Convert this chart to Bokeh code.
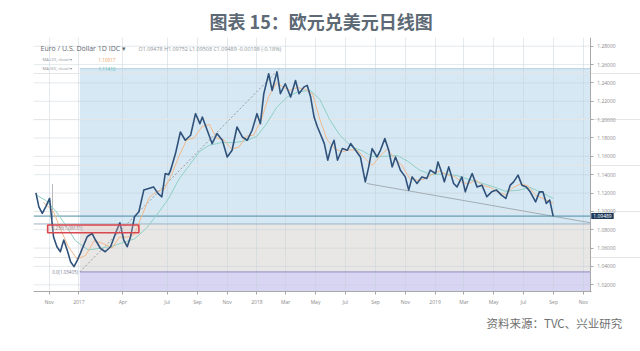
import pandas as pd
from bokeh.plotting import figure
from bokeh.models import (Range1d, FixedTicker, NumeralTickFormatter, Label, ColumnDataSource,
                          Title, LinearAxis)
from bokeh.embed import file_html
from bokeh.resources import INLINE

# ---------------- data ----------------
title_text = "图表 15：欧元兑美元日线图"
source_text = "资料来源：TVC、兴业研究"
header_pair = "Euro / U.S. Dollar   1D   IDC ▾"
header_ohlc = "O1.09478  H1.09752  L1.09508  C1.09489  -0.00198 (-0.18%)"
ma_fast_name = "MA (20, close) ▾"
ma_fast_last = "1.10917"
ma_slow_name = "MA (60, close) ▾"
ma_slow_last = "1.11410"

price_dates = [
    "2016-10-05", "2016-10-11", "2016-10-18", "2016-10-25", "2016-11-02", "2016-11-10",
    "2016-11-17", "2016-11-24", "2016-12-01", "2016-12-08", "2016-12-15", "2016-12-22",
    "2016-12-29", "2017-01-04", "2017-01-11", "2017-01-18", "2017-01-28", "2017-02-04",
    "2017-02-14", "2017-02-24", "2017-03-07", "2017-03-17", "2017-03-26", "2017-04-03",
    "2017-04-10", "2017-04-17", "2017-04-25", "2017-05-04", "2017-05-14", "2017-05-24",
    "2017-06-03", "2017-06-12", "2017-06-20", "2017-06-27", "2017-07-04", "2017-07-08",
    "2017-07-18", "2017-07-28", "2017-08-07", "2017-08-18", "2017-08-28", "2017-09-06",
    "2017-09-11", "2017-09-21", "2017-10-01", "2017-10-11", "2017-10-22", "2017-11-01",
    "2017-11-11", "2017-11-21", "2017-12-02", "2017-12-12", "2017-12-22", "2018-01-01",
    "2018-01-08", "2018-01-15", "2018-01-25", "2018-02-01", "2018-02-11", "2018-02-18",
    "2018-02-28", "2018-03-11", "2018-03-21", "2018-03-28", "2018-04-07", "2018-04-14",
    "2018-04-21", "2018-04-28", "2018-05-05", "2018-05-12", "2018-05-19", "2018-05-26",
    "2018-06-02", "2018-06-08", "2018-06-15", "2018-06-25", "2018-07-05", "2018-07-12",
    "2018-07-22", "2018-08-01", "2018-08-11", "2018-08-18", "2018-08-25", "2018-09-04",
    "2018-09-11", "2018-09-20", "2018-09-28", "2018-10-05", "2018-10-12", "2018-10-22",
    "2018-11-01", "2018-11-08", "2018-11-15", "2018-11-25", "2018-12-05", "2018-12-15",
    "2018-12-22", "2019-01-02", "2019-01-07", "2019-01-14", "2019-01-20", "2019-01-29",
    "2019-02-08", "2019-02-15", "2019-02-25", "2019-03-04", "2019-03-11", "2019-03-18",
    "2019-03-28", "2019-04-07", "2019-04-17", "2019-04-27", "2019-05-07", "2019-05-17",
    "2019-05-26", "2019-06-04", "2019-06-11", "2019-06-20", "2019-06-28", "2019-07-07",
    "2019-07-15", "2019-07-26", "2019-08-03", "2019-08-10", "2019-08-17", "2019-08-24",
    "2019-08-31",
]
price_close = [
    1.1202, 1.1050, 1.0978, 1.1050, 1.1141, 1.0724,
    1.0615, 1.0560, 1.0688, 1.0580, 1.0452, 1.0398,
    1.0470, 1.0543, 1.0634, 1.0724, 1.0760, 1.0688,
    1.0598, 1.0560, 1.0615, 1.0760, 1.0876, 1.0688,
    1.0615, 1.0724, 1.0941, 1.0996, 1.1232, 1.1250,
    1.1267, 1.1196, 1.1159, 1.1413, 1.1400, 1.1449,
    1.1630, 1.1865, 1.1775, 1.1830, 1.2065, 1.1956,
    1.2028, 1.1884, 1.1739, 1.1848, 1.1775, 1.1593,
    1.1666, 1.1920, 1.1811, 1.1775, 1.1884, 1.2065,
    1.1956, 1.2283, 1.2500, 1.2318, 1.2520, 1.2283,
    1.2391, 1.2246, 1.2427, 1.2283, 1.2354, 1.2373,
    1.2246, 1.2028, 1.1920, 1.1830, 1.1739, 1.1558,
    1.1702, 1.1775, 1.1558, 1.1685, 1.1666, 1.1739,
    1.1666, 1.1593, 1.1322, 1.1485, 1.1685, 1.1593,
    1.1666, 1.1793, 1.1666, 1.1485, 1.1593, 1.1449,
    1.1376, 1.1232, 1.1376, 1.1304, 1.1376, 1.1359,
    1.1449, 1.1413, 1.1539, 1.1431, 1.1322, 1.1485,
    1.1304, 1.1267, 1.1376, 1.1213, 1.1322, 1.1413,
    1.1267, 1.1286, 1.1159, 1.1213, 1.1232, 1.1177,
    1.1141, 1.1286, 1.1322, 1.1395, 1.1286, 1.1267,
    1.1213, 1.1104, 1.1213, 1.1213, 1.1087, 1.1123,
    1.0949,
]

ma_fast_dates = [
    "2016-10-20", "2016-11-10", "2016-11-25", "2016-12-10", "2016-12-28", "2017-01-15",
    "2017-02-01", "2017-02-20", "2017-03-10", "2017-03-25", "2017-04-10", "2017-04-25",
    "2017-05-10", "2017-05-25", "2017-06-10", "2017-06-25", "2017-07-10", "2017-07-25",
    "2017-08-10", "2017-08-25", "2017-09-10", "2017-09-25", "2017-10-10", "2017-10-25",
    "2017-11-10", "2017-11-25", "2017-12-10", "2017-12-25", "2018-01-10", "2018-01-25",
    "2018-02-10", "2018-02-25", "2018-03-10", "2018-03-25", "2018-04-10", "2018-04-25",
    "2018-05-10", "2018-05-25", "2018-06-10", "2018-06-25", "2018-07-10", "2018-07-25",
    "2018-08-10", "2018-08-25", "2018-09-10", "2018-09-25", "2018-10-10", "2018-10-25",
    "2018-11-10", "2018-11-25", "2018-12-10", "2018-12-25", "2019-01-10", "2019-01-25",
    "2019-02-10", "2019-02-25", "2019-03-10", "2019-03-25", "2019-04-10", "2019-04-25",
    "2019-05-10", "2019-05-25", "2019-06-10", "2019-06-25", "2019-07-10", "2019-07-25",
    "2019-08-10", "2019-08-31",
]
ma_fast_values = [
    1.110, 1.100, 1.080, 1.062, 1.048, 1.052,
    1.068, 1.065, 1.060, 1.072, 1.072, 1.075,
    1.095, 1.115, 1.122, 1.124, 1.140, 1.160,
    1.178, 1.180, 1.192, 1.195, 1.180, 1.178,
    1.168, 1.170, 1.182, 1.183, 1.200, 1.225,
    1.240, 1.235, 1.232, 1.235, 1.233, 1.228,
    1.200, 1.178, 1.168, 1.165, 1.167, 1.167,
    1.158, 1.150, 1.160, 1.168, 1.158, 1.150,
    1.136, 1.134, 1.135, 1.140, 1.144, 1.140,
    1.138, 1.132, 1.130, 1.134, 1.128, 1.126,
    1.121, 1.118, 1.126, 1.130, 1.128, 1.118,
    1.114, 1.109,
]

ma_slow_dates = [
    "2016-10-05", "2016-10-25", "2016-11-15", "2016-12-05", "2016-12-25", "2017-01-20",
    "2017-02-15", "2017-03-10", "2017-04-01", "2017-04-25", "2017-05-20", "2017-06-15",
    "2017-07-05", "2017-07-25", "2017-08-15", "2017-09-05", "2017-09-25", "2017-10-20",
    "2017-11-15", "2017-12-10", "2018-01-01", "2018-01-20", "2018-02-10", "2018-03-05",
    "2018-03-25", "2018-04-20", "2018-05-10", "2018-05-30", "2018-06-20", "2018-07-15",
    "2018-08-05", "2018-08-25", "2018-09-20", "2018-10-15", "2018-11-05", "2018-11-30",
    "2018-12-25", "2019-01-20", "2019-02-15", "2019-03-10", "2019-04-05", "2019-04-30",
    "2019-05-25", "2019-06-20", "2019-07-15", "2019-08-10", "2019-08-31",
]
ma_slow_values = [
    1.118, 1.112, 1.100, 1.085, 1.068, 1.058,
    1.060, 1.062, 1.066, 1.070, 1.082, 1.100,
    1.115, 1.135, 1.150, 1.165, 1.172, 1.175,
    1.175, 1.177, 1.182, 1.195, 1.213, 1.225,
    1.230, 1.232, 1.222, 1.200, 1.183, 1.170,
    1.166, 1.160, 1.160, 1.161, 1.155, 1.145,
    1.140, 1.141, 1.139, 1.135, 1.131, 1.127,
    1.122, 1.123, 1.126, 1.120, 1.114,
]

# Fibonacci retracement (low -> high) and other drawings
fib_dates = ["2017-01-03", "2018-02-16"]
fib_prices = [1.03405, 1.2555]
fib_level_values = [1.03405, 1.08631, 1.2555]
fib_level_texts = ["0.0(1.03405)", "0.236(1.08631)"]
band_bottoms = [1.0, 1.03405, 1.08631]
band_tops = [1.03405, 1.08631, 1.2555]
band_colors = ["#d8d5f2", "#e8e7e6", "#d5e8f4"]

trend_dates = ["2018-08-14", "2019-11-15"]
trend_prices = [1.1304, 1.0876]

box_dates = ["2016-10-29", "2017-05-04"]
box_prices = [1.0767, 1.0851]

event_date = "2016-11-08"
event_prices = [1.0918, 1.1298]

last_price = 1.09489
last_price_text = "1.09489"

x_tick_dates = ["2016-11-01", "2017-01-01", "2017-04-01", "2017-07-01", "2017-09-01",
                "2017-11-01", "2018-01-01", "2018-03-01", "2018-05-01", "2018-07-01",
                "2018-09-01", "2018-11-01", "2019-01-01", "2019-03-01", "2019-05-01",
                "2019-07-01", "2019-09-01", "2019-11-01"]
x_tick_labels = ["Nov", "2017", "Apr", "Jul", "Sep", "Nov", "2018", "Mar", "May", "Jul",
                 "Sep", "Nov", "2019", "Mar", "May", "Jul", "Sep", "Nov"]
y_ticks = [1.02, 1.04, 1.06, 1.08, 1.10, 1.12, 1.14, 1.16, 1.18, 1.20, 1.22, 1.24, 1.26, 1.28]

# visible window: price area ends at the price scale (axis_date); the price-scale
# column (labels) lies to the right of it
x_start, axis_date, x_end = "2016-09-30", "2019-11-15", "2020-02-26"
x_axis_end = "2019-11-18"
y_start, y_end = 1.0127, 1.2895


def ms(s):
    return pd.Timestamp(s).value / 1e6


def ts(s):
    return pd.Timestamp(s)


# ---------------- figure ----------------
W, H = 640, 351
ML, MR, MT, MB = 33, 0, 37, 60
FW, FH = W - ML - MR, H - MT - MB

p = figure(width=W, height=H, x_axis_type="datetime", y_axis_location=None,
           x_range=Range1d(ms(x_start), ms(x_end)), y_range=Range1d(y_start, y_end),
           output_backend="svg", toolbar_location=None,
           min_border_left=ML, min_border_right=MR, min_border_top=MT, min_border_bottom=MB,
           background_fill_color="white", border_fill_color="white", outline_line_color=None)

# title (above) and source (below)
p.title.text = title_text
p.title.align = "left"
p.title.offset = 176
p.title.text_font_size = "18px"
p.title.text_font = "Noto Sans CJK SC"
p.title.text_font_style = "bold"
p.title.text_color = "#5d6975"
p.title.standoff = 8

src_title = Title(text=source_text, align="left", offset=453, text_font_size="11.5px",
                  text_font="Noto Sans CJK SC", text_font_style="normal",
                  text_color="#707070", standoff=11)
p.add_layout(src_title, "below")

# bands
bsrc = ColumnDataSource(dict(
    left=[ts(fib_dates[0])] * len(band_bottoms),
    right=[ts(axis_date)] * len(band_bottoms),
    bottom=band_bottoms, top=band_tops, color=band_colors))
br = p.quad(left="left", right="right", bottom="bottom", top="top", fill_color="color",
            line_color=None, source=bsrc)
br.level = "image"

# grid
xt = FixedTicker(ticks=[ms(d) for d in x_tick_dates])
yt = FixedTicker(ticks=y_ticks)
p.xgrid.ticker = xt
p.xgrid.grid_line_color = "#c3ced6"
p.xgrid.grid_line_alpha = 0.45
p.xgrid.bounds = (ms(x_start), ms(axis_date))
hg = p.segment(x0=[ts(x_start)] * len(y_ticks), x1=[ts(axis_date)] * len(y_ticks),
               y0=y_ticks, y1=y_ticks, line_color="#c3ced6", line_alpha=0.45, line_width=1)
hg.level = "underlay"

# fib level lines
p.line([ts(fib_dates[0]), ts(axis_date)], [fib_level_values[0]] * 2,
       line_color="#8f8ac4", line_width=1)
p.line([ts(x_start), ts(axis_date)], [fib_level_values[1]] * 2,
       line_color="#9fb3c2", line_width=1)
p.line([ts(fib_dates[0]), ts(axis_date)], [fib_level_values[2]] * 2,
       line_color="#b7cfe0", line_width=1)

# fib diagonal
p.line([ts(d) for d in fib_dates], fib_prices, line_color="#9a9a9a",
       line_width=1, line_dash="2 2")

# lower trend line
p.line([ts(d) for d in trend_dates], trend_prices, line_color="#a3acb4", line_width=1)

# event vertical line
p.line([ts(event_date)] * 2, event_prices, line_color="#b8b8b8", line_width=1)

# last price line
p.line([ts(x_start), ts(axis_date)], [last_price] * 2, line_color="#4f8aa3", line_width=1)

# moving averages
p.line([ts(d) for d in ma_slow_dates], ma_slow_values, line_color="#8fd0c4", line_width=1)
p.line([ts(d) for d in ma_fast_dates], ma_fast_values, line_color="#f2b98a", line_width=1)

# price
p.line([ts(d) for d in price_dates], price_close, line_color="#30527a",
       line_width=1.6, line_join="round")

# red highlight box
p.quad(left=[ts(box_dates[0])], right=[ts(box_dates[1])],
       bottom=[box_prices[0]], top=[box_prices[1]], fill_color="#f3c9c9", fill_alpha=0.25,
       line_color="#d9474f", line_width=1.6)

# fib labels
p.add_layout(Label(x=ms(fib_dates[0]), y=fib_level_values[0], text=fib_level_texts[0],
                   text_align="right", text_baseline="middle", x_offset=-2,
                   text_font_size="4.5px", text_color="#7d7d9a", text_font="Open Sans"))
p.add_layout(Label(x=ms(box_dates[0]), y=fib_level_values[1], text=fib_level_texts[1],
                   text_align="left", text_baseline="top", x_offset=4, y_offset=-1,
                   text_font_size="4.5px", text_color="#8a8a8a", text_font="Open Sans"))

# axes
yaxis = LinearAxis(fixed_location=ms(axis_date), ticker=yt,
                   formatter=NumeralTickFormatter(format="0.00000"))
p.add_layout(yaxis, "right")
p.xaxis.ticker = xt
p.xaxis.bounds = (ms(x_start), ms(x_axis_end))
p.xaxis.major_label_overrides = {ms(d): lab for d, lab in zip(x_tick_dates, x_tick_labels)}
for ax in (p.xaxis[0], yaxis):
    ax.axis_line_color = "#a8a8a8"
    ax.major_tick_line_color = "#a8a8a8"
    ax.minor_tick_line_color = None
    ax.major_tick_in = 0
    ax.major_tick_out = 3
    ax.major_label_text_font_size = "5px"
    ax.major_label_text_color = "#8a8a8a"
    ax.major_label_text_font = "Open Sans"
    ax.major_label_standoff = 4

# last price tag on the price scale
p.add_layout(Label(x=ms(axis_date), y=last_price, x_offset=1, text=last_price_text,
                   text_baseline="middle", text_align="left", text_font_size="5px",
                   text_color="white", text_font="Open Sans",
                   background_fill_color="#1d3a5a", padding=(2, 1)))

# header texts (screen units relative to frame bottom-left)
def hdr(x, ypix, text, color, size, bold=False):
    p.add_layout(Label(x=x - ML, y=FH - (ypix - MT), x_units="screen", y_units="screen",
                       text=text, text_baseline="middle", text_font_size=size,
                       text_color=color, text_font="Open Sans",
                       text_font_style="bold" if bold else "normal"))

hdr(40, 48, header_pair, "#5f6770", "7px")
hdr(138, 48, header_ohlc, "#8c939a", "5.4px")
hdr(42, 59, ma_fast_name, "#8c939a", "4.2px")
hdr(98, 59, ma_fast_last, "#f0a060", "4.6px")
hdr(42, 68, ma_slow_name, "#8c939a", "4.2px")
hdr(98, 68, ma_slow_last, "#5fc0b0", "4.6px")

open("out.html", "w").write(file_html(p, INLINE))
